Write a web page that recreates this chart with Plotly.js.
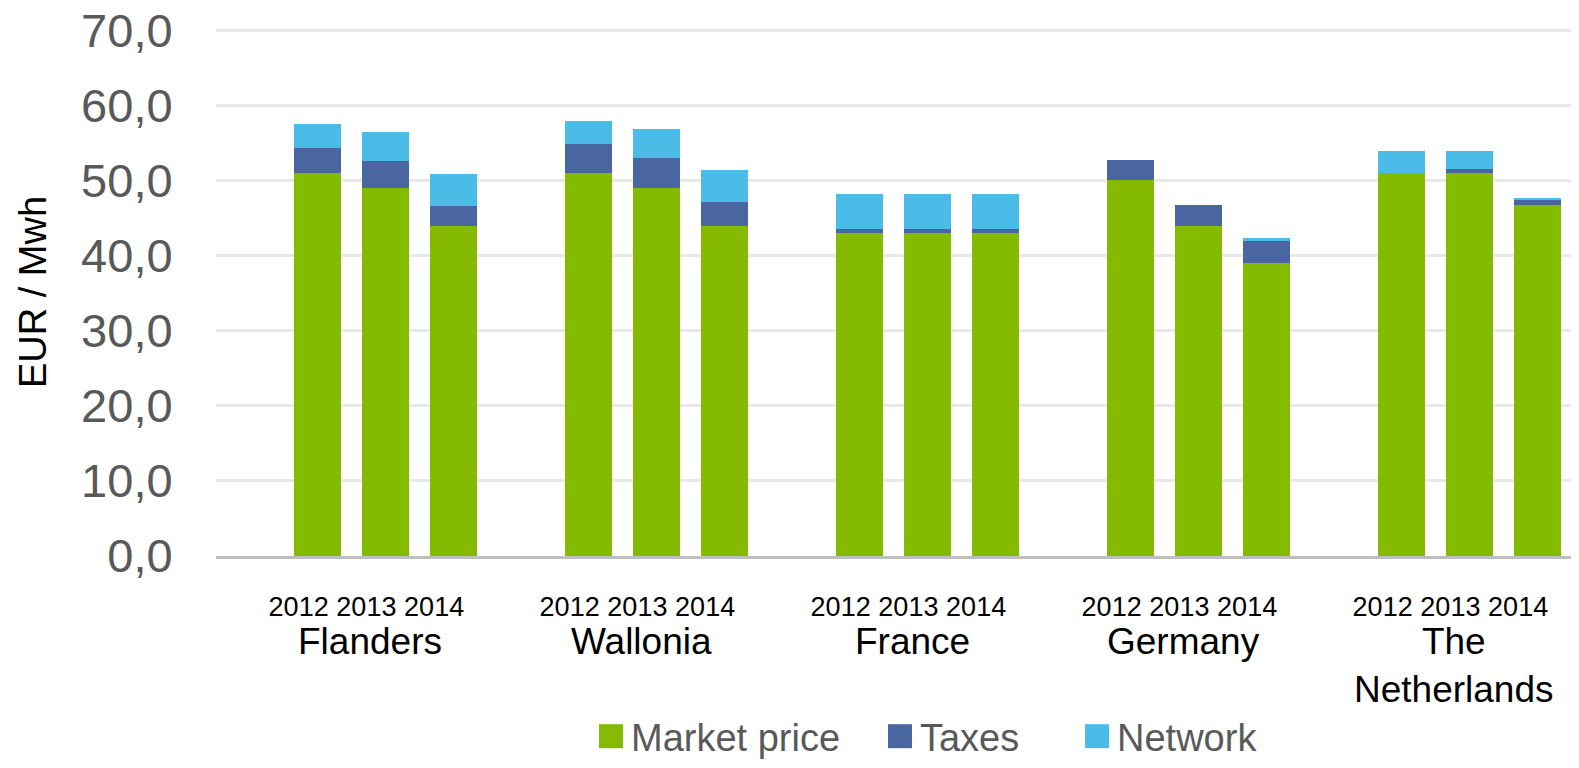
<!DOCTYPE html>
<html><head><meta charset="utf-8">
<script src="https://cdn.plot.ly/plotly-3.0.1.min.js"></script>
<style>html,body{margin:0;padding:0;background:#fff}#chart{width:1579px;height:768px}</style>
</head><body><div id="chart"></div>
<script>
const regions = ['Flanders', 'Wallonia', 'France', 'Germany', 'The<br>Netherlands'];
const years = ['2012', '2013', '2014'];
// values per region, in year order (EUR / MWh)
const marketPrice = [51.0, 49.0, 44.0,  51.0, 49.0, 44.0,  43.0, 43.0, 43.0,  50.0, 44.0, 39.0,  51.0, 51.0, 46.8];
const taxes       = [3.3, 3.6, 2.6,     3.9, 4.0, 3.1,     0.6, 0.6, 0.6,     2.7, 2.8, 2.9,     0.0, 0.5, 0.6];
const network     = [3.2, 3.8, 4.3,     3.0, 3.8, 4.3,     4.6, 4.6, 4.6,     0.0, 0.0, 0.5,     2.9, 2.4, 0.3];
const seriesNames = ['Market price', 'Taxes', 'Network'];
const seriesColors = ['#84BA00', '#4A66A0', '#4BBCE8'];

// legend entry placement (container fraction) -- layout only
const legendIds = ['legend', 'legend2', 'legend3'];
const legendX = [0.3743, 0.5573, 0.6821];

const slotsPerGroup = years.length + 1;
const xPos = [], tickText = [];
regions.forEach((r, gi) => years.forEach((y, yi) => {
  xPos.push(gi * slotsPerGroup + yi + 1);
  tickText.push(y);
}));

const data = [marketPrice, taxes, network].map((vals, i) => ({
  type: 'bar', x: xPos, y: vals, name: seriesNames[i],
  legend: legendIds[i],
  marker: {color: seriesColors[i], line: {width: 0}}, hoverinfo: 'none'
}));

const layout = {
  width: 1579, height: 768,
  margin: {l: 216, r: 8, t: 28, b: 212, pad: 0, autoexpand: false},
  paper_bgcolor: '#fff', plot_bgcolor: '#fff',
  barmode: 'stack', bargap: 0.31,
  separators: ',.',
  font: {family: '"Liberation Sans", Arial, sans-serif', color: '#000'},
  showlegend: true,
  xaxis: {
    range: [-0.5, regions.length * slotsPerGroup - 0.5],
    tickvals: xPos, ticktext: tickText,
    showgrid: false, zeroline: false, automargin: false,
    showline: true, linecolor: '#BFBFBF', linewidth: 3,
    ticks: 'outside', ticklen: 25, tickcolor: 'rgba(0,0,0,0)',
    tickfont: {size: 27, color: '#000'}, ticklabelshift: -19,
    fixedrange: true
  },
  yaxis: {
    range: [0, 70.3], tickvals: [0, 10, 20, 30, 40, 50, 60, 70], tickformat: '.1f',
    showgrid: true, gridcolor: '#E9E9E9', gridwidth: 3,
    zeroline: false, showline: false, automargin: false,
    ticks: 'outside', ticklen: 33, tickcolor: 'rgba(0,0,0,0)',
    tickfont: {size: 47, color: '#595959'},
    title: {text: 'EUR / Mwh', font: {size: 38, color: '#000'}, standoff: 22},
    fixedrange: true
  },
  annotations: regions.map((r, gi) => ({
    x: gi * slotsPerGroup + (years.length + 1) / 2, xref: 'x',
    y: -0.119, yref: 'paper', yanchor: 'top', xanchor: 'center',
    text: r, showarrow: false, xshift: -15,
    font: {size: 37, color: '#000'}
  }))
};
legendIds.forEach((id, i) => {
  layout[id] = {
    orientation: 'h', xref: 'container', yref: 'container',
    x: legendX[i], xanchor: 'left', y: -0.008, yanchor: 'bottom',
    font: {size: 38, color: '#595959'}, bgcolor: 'rgba(0,0,0,0)'
  };
});

Plotly.newPlot('chart', data, layout, {displayModeBar: false, staticPlot: true}).then(() => {
  document.querySelectorAll('#chart .legendpoints path').forEach(p => {
    p.setAttribute('d', 'M12,12H-12V-12H12Z');
  });
});
</script>
</body></html>
